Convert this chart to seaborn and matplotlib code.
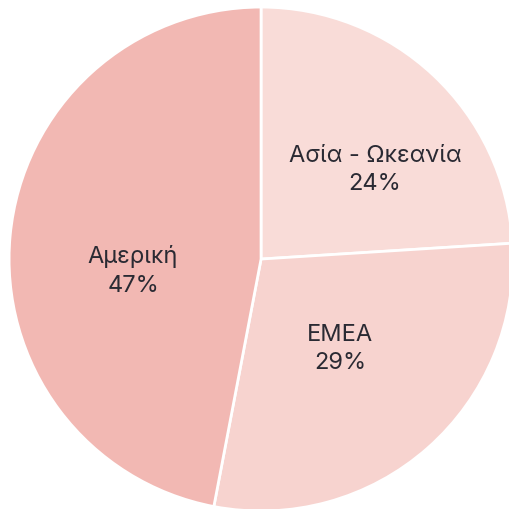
import matplotlib
matplotlib.use("Agg")
import matplotlib.pyplot as plt
import seaborn as sns

# regions and their share of the total
regions = ["Ασία - Ωκεανία", "EMEA", "Αμερική"]
shares = [24, 29, 47]
colors = ["#F9DCD8", "#F7D3CF", "#F2B8B3"]

# where each label sits inside its slice (pie data units)
label_pos = [(0.452, 0.357), (0.313, -0.353), (-0.508, -0.044)]

sns.set_theme(style="white")
plt.rcParams['font.family'] = ['Inter', 'DejaVu Sans']

fig = plt.figure(figsize=(5.1, 5.1), dpi=100)
ax = fig.add_axes([0, 0, 1, 1])

def make_label(pct):
    idx = min(range(len(shares)), key=lambda i: abs(shares[i] - pct))
    return f"{regions[idx]}\n{pct:.0f}%"

wedges, texts, autotexts = ax.pie(
    shares,
    colors=colors,
    startangle=90,
    counterclock=False,
    autopct=make_label,
    pctdistance=0.56,
    wedgeprops=dict(edgecolor="white", linewidth=2),
    textprops=dict(fontsize=17, color="#2a2a33", linespacing=1.4,
                   fontweight="normal"),
)
for t, pos in zip(autotexts, label_pos):
    t.set_position(pos)

ax.set_xlim(-1.036, 0.988)
ax.set_ylim(-0.992, 1.032)
ax.set_aspect("equal")
ax.axis("off")

fig.savefig("out.png", dpi=100)
